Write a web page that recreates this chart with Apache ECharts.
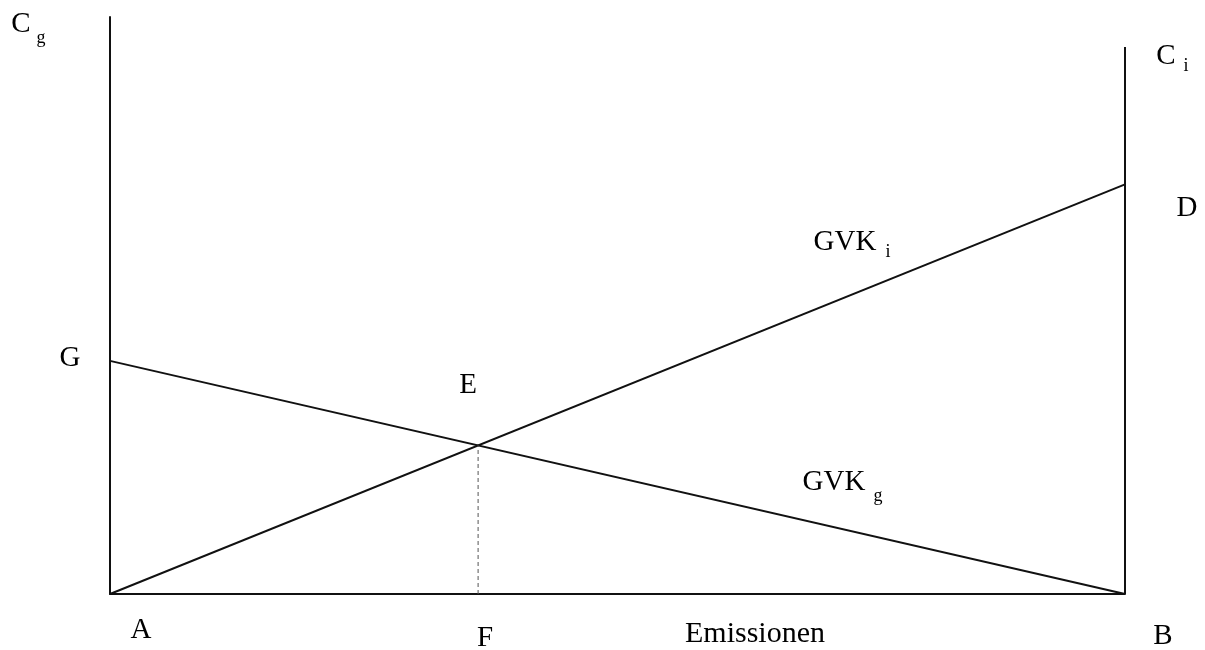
<!DOCTYPE html>
<html>
<head>
<meta charset="utf-8">
<style>
  html, body { margin: 0; padding: 0; background: #fff; }
  #chart { width: 1205px; height: 650px; }
</style>
<script src="https://cdn.jsdelivr.net/npm/echarts@6/dist/echarts.min.js"></script>
</head>
<body>
<div id="chart"></div>
<script>
// ---- data (emission share 0..100 along x; cost in arbitrary units 0..100) ----
const xRange = [0, 100];
const yRange = [0, 100];
const gvkI = [[0, 0], [100, 71.0]];        // A -> D
const gvkG = [[0, 40.4], [100, 0]];        // G -> B
const rightAxisTop = 94.8;                 // top of C_i axis
const pointLabels = ['A', 'B', 'D', 'E', 'F', 'G'];
const axisNames = ['C', 'g', 'C', 'i'];
const curveNames = ['GVK', 'i', 'GVK', 'g'];
const xAxisName = 'Emissionen';

// intersection E of the two curves (derived from the data)
function lineAt(p, x) { return p[0][1] + (p[1][1] - p[0][1]) * (x - p[0][0]) / (p[1][0] - p[0][0]); }
const slopeI = (gvkI[1][1] - gvkI[0][1]) / (gvkI[1][0] - gvkI[0][0]);
const slopeG = (gvkG[1][1] - gvkG[0][1]) / (gvkG[1][0] - gvkG[0][0]);
const xE = (gvkG[0][1] - gvkI[0][1]) / (slopeI - slopeG);
const yE = lineAt(gvkI, xE);
const dropLine = [[xE, 0], [xE, yE]];
const rightAxis = [[xRange[1], 0], [xRange[1], rightAxisTop]];

const FONT = '"Liberation Serif", "Times New Roman", "DejaVu Serif", serif';
const INK = '#000';

function txt(t, x, y, size, align) {
  return {
    type: 'text', x: x, y: y, silent: true,
    style: {
      text: t, fontSize: size, fontFamily: FONT, fill: INK,
      textAlign: align || 'center', textVerticalAlign: 'middle',
      align: align || 'center', verticalAlign: 'middle'
    }
  };
}

const chart = echarts.init(document.getElementById('chart'), null, { renderer: 'canvas' });
const lineStyle = { color: '#111', width: 2 };

chart.setOption({
  animation: false,
  backgroundColor: '#fff',
  grid: { left: 110, right: 80, top: 17, bottom: 56, containLabel: false },
  xAxis: {
    type: 'value', min: xRange[0], max: xRange[1],
    axisLine: { show: true, onZero: false, lineStyle: { color: '#111', width: 2 } },
    axisTick: { show: false }, axisLabel: { show: false }, splitLine: { show: false }
  },
  yAxis: {
    type: 'value', min: yRange[0], max: yRange[1],
    axisLine: { show: true, onZero: false, lineStyle: { color: '#111', width: 2 } },
    axisTick: { show: false }, axisLabel: { show: false }, splitLine: { show: false }
  },
  series: [
    { name: 'GVK_i', type: 'line', data: gvkI, symbol: 'none', lineStyle: lineStyle, silent: true },
    { name: 'GVK_g', type: 'line', data: gvkG, symbol: 'none', lineStyle: lineStyle, silent: true },
    { name: 'C_i axis', type: 'line', data: rightAxis, symbol: 'none', lineStyle: lineStyle, silent: true },
    { name: 'EF', type: 'line', data: dropLine, symbol: 'none', silent: true,
      lineStyle: { color: '#555', width: 1, type: [4, 3] } }
  ],
  graphic: [
    // axis titles
    txt(axisNames[0], 21, 24, 29),
    txt(axisNames[1], 41, 38, 18),
    txt(axisNames[2], 1166, 56, 29),
    txt(axisNames[3], 1186, 66, 18),
    // point labels
    txt(pointLabels[0], 141, 630, 29),
    txt(pointLabels[1], 1163, 636, 29),
    txt(pointLabels[2], 1187, 208, 29),
    txt(pointLabels[3], 468, 385, 29),
    txt(pointLabels[4], 485, 638, 29),
    txt(pointLabels[5], 70, 358, 29),
    // curve labels
    txt(curveNames[0], 845, 242, 29),
    txt(curveNames[1], 888, 252, 18),
    txt(curveNames[2], 834, 482, 29),
    txt(curveNames[3], 878, 496, 18),
    // x axis name
    txt(xAxisName, 755, 634, 30)
  ]
});
</script>
</body>
</html>
